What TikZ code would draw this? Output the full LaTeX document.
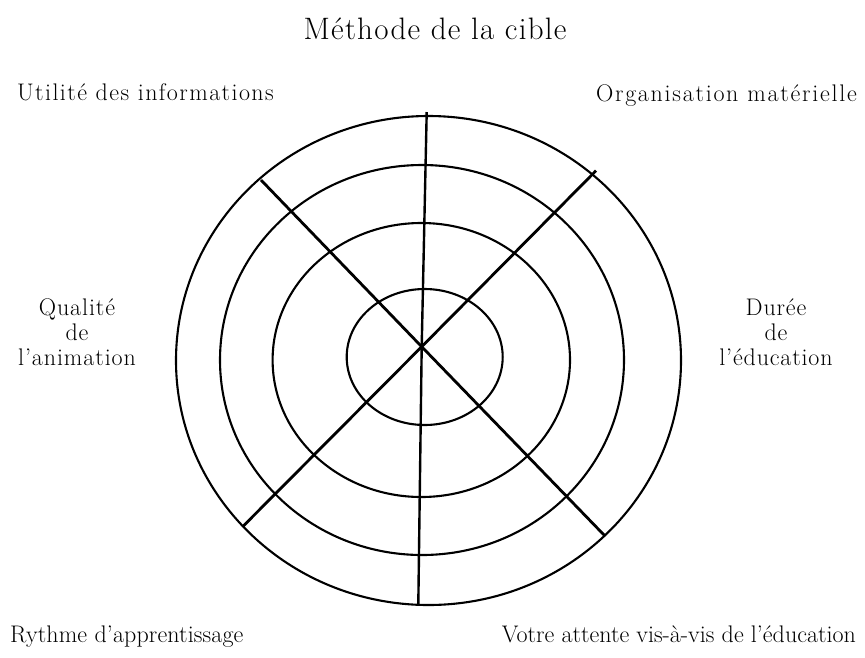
\documentclass[tikz,border=0pt]{standalone}
\usepackage{fontspec}
\setmainfont{Latin Modern Roman}
\newcommand{\lsp}[1]{\addfontfeatures{LetterSpace=#1}}
\begin{document}
\begin{tikzpicture}[x=1pt,y=-1pt,
  ring/.style={draw=black,line width=2.1pt},
  spoke/.style={draw=black,line width=2.8pt},
  vspoke/.style={draw=black,line width=2.4pt},
  lbl/.style={inner sep=0pt,font=\fontsize{24}{25}\selectfont},
  ttl/.style={inner sep=0pt,font=\fontsize{31}{34}\selectfont\lsp{4}}]
\useasboundingbox (0,0) rectangle (865,657);
\fill[white] (0,0) rectangle (865,657);
% rings
\draw[ring] (424.7,357) ellipse [x radius=78, y radius=68];
\draw[ring] (421.3,360) ellipse [x radius=148.7, y radius=137];
\draw[ring] (422,360) ellipse [x radius=202, y radius=195];
\draw[ring] (428.5,360.5) ellipse [x radius=252.5, y radius=244.5];
% spoke ends
\coordinate (ctr) at (421.7,346.7);
\coordinate (top) at (426.7,112);
\coordinate (bot) at (418.3,605);
\coordinate (nw) at (261,180);
\coordinate (se) at (605,536);
\coordinate (ne) at (596,170.7);
\coordinate (sw) at (243.3,526);
\draw[vspoke] (top) -- (ctr) -- (bot);
\draw[spoke] (nw) -- (ctr) -- (se);
\draw[spoke] (ne) -- (ctr) -- (sw);
% texts
\node[ttl,anchor=base] (title) at (435,39) {Méthode de la cible};
\node[lbl,anchor=base west] (util) at (17,100) {\lsp{5.9}Utilité des informations};
\node[lbl,anchor=base east] (orga) at (857,101) {\lsp{7.2}Organisation matérielle};
\node[lbl,anchor=base,align=center] (qual) at (77,365) {\lsp{3.8}Qualité\\\lsp{3.8}de\\\lsp{3.8}l'animation};
\node[lbl,anchor=base,align=center] (duree) at (776,365) {\lsp{3.5}Durée\\\lsp{3.5}de\\\lsp{3.5}l'éducation};
\node[lbl,anchor=base west] (ryth) at (10,642) {\lsp{0.5}Rythme d'apprentissage};
\node[lbl,anchor=base east] (votre) at (856,642) {Votre attente vis-à-vis de l'éducation};
\end{tikzpicture}
\end{document}
